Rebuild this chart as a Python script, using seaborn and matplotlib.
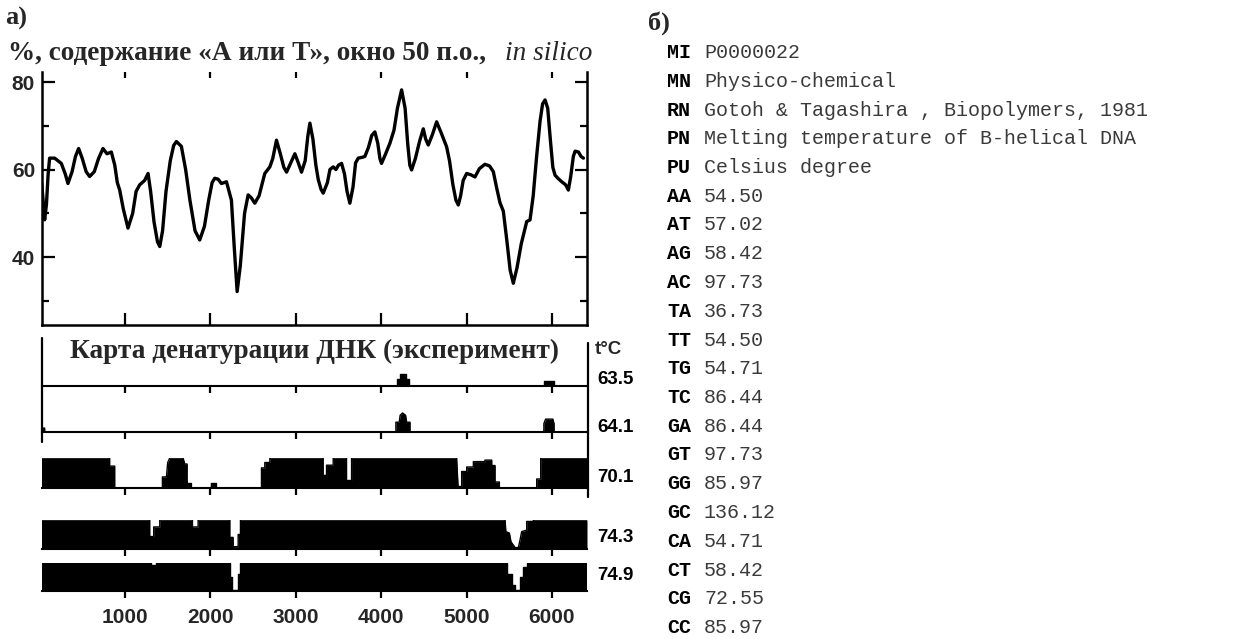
import matplotlib
matplotlib.use('Agg')
import matplotlib.pyplot as plt
from matplotlib.lines import Line2D
from matplotlib.font_manager import FontProperties
import seaborn as sns
import pandas as pd

# ---------------- data ----------------
pos_bp = [25, 45, 59, 80, 100, 117, 176, 254, 300, 332, 380, 420, 457, 500, 545, 586, 640, 690,
          742, 789, 840, 880, 910, 938, 980, 1035, 1090, 1130, 1172, 1230, 1270, 1300, 1340, 1380,
          1407, 1440, 1480, 1530, 1570, 1602, 1660, 1710, 1760, 1820, 1875, 1930, 1980, 2020, 2051,
          2090, 2129, 2188, 2246, 2280, 2313, 2350, 2400, 2442, 2480, 2520, 2570, 2637, 2696, 2730,
          2774, 2820, 2860, 2892, 2940, 2989, 3030, 3067, 3110, 3140, 3165, 3200, 3235, 3263, 3295,
          3321, 3370, 3400, 3438, 3470, 3500, 3536, 3570, 3600, 3633, 3670, 3700, 3731, 3780, 3809,
          3850, 3890, 3926, 3960, 3985, 4004, 4050, 4102, 4150, 4190, 4239, 4280, 4310, 4335, 4356,
          4400, 4450, 4493, 4520, 4551, 4600, 4649, 4700, 4740, 4766, 4800, 4840, 4875, 4903, 4930,
          4960, 5001, 5050, 5098, 5150, 5215, 5270, 5313, 5350, 5391, 5430, 5470, 5510, 5547, 5590,
          5640, 5704, 5743, 5780, 5820, 5860, 5890, 5919, 5950, 5980, 6010, 6036, 6070, 6114, 6160,
          6192, 6220, 6250, 6271, 6310, 6340, 6368]
at_percent = [56.8, 52.0, 48.5, 52.0, 59.0, 62.6, 62.6, 61.4, 59.0, 56.8, 59.5, 63.0, 64.8, 62.5,
              59.5, 58.4, 59.5, 62.5, 64.8, 63.6, 64.0, 61.0, 57.0, 55.3, 51.0, 46.6, 50.0, 55.0,
              56.5, 57.5, 59.1, 55.0, 48.0, 43.5, 42.4, 46.0, 55.0, 62.0, 65.5, 66.4, 65.3, 60.0,
              53.0, 46.0, 43.9, 47.0, 53.0, 57.0, 58.0, 57.8, 56.8, 57.2, 53.0, 42.0, 32.1, 38.0,
              50.0, 54.2, 53.5, 52.3, 54.0, 59.1, 60.6, 62.5, 66.7, 63.5, 60.5, 59.4, 61.5, 63.6,
              61.5, 59.4, 62.0, 67.5, 70.6, 67.0, 61.0, 57.7, 55.5, 54.6, 57.0, 60.0, 60.6, 60.0,
              61.0, 61.4, 59.0, 55.0, 52.3, 56.0, 61.5, 62.6, 62.8, 63.0, 65.0, 67.8, 68.6, 66.0,
              62.5, 61.4, 63.5, 66.0, 69.0, 74.0, 78.2, 74.0, 66.0, 61.0, 59.9, 62.5, 66.5, 69.3,
              67.0, 65.6, 68.0, 70.9, 68.5, 66.5, 65.2, 62.0, 56.5, 53.0, 51.9, 54.0, 57.5, 59.1,
              58.8, 58.3, 60.2, 61.2, 60.8, 59.5, 56.0, 52.4, 50.5, 44.0, 37.0, 34.0, 37.5, 43.0,
              48.1, 48.5, 54.0, 63.0, 71.0, 75.0, 75.9, 74.0, 67.0, 60.5, 58.7, 58.0, 57.2, 56.5,
              55.3, 58.5, 63.0, 64.2, 64.0, 63.0, 62.6]

y_major = [40, 60, 80]
y_minor = [30, 50, 70]
x_ticks = [1000, 2000, 3000, 4000, 5000, 6000]

melt_temps = ['63.5', '64.1', '70.1', '74.3', '74.9']

# fraction of the DNA melted along the sequence at each temperature
row1_x = [0, 4180, 4180, 4219, 4219, 4290, 4290, 4329, 4329, 5911, 5911, 6024, 6024, 6410]
row1_h = [0, 0, 0.25, 0.25, 0.43, 0.43, 0.25, 0.25, 0, 0, 0.18, 0.18, 0, 0]

row2_x = [0, 59, 59, 4172, 4172, 4211, 4222, 4250, 4285, 4298, 4337, 4337, 5905, 5905, 5925,
          6010, 6024, 6024, 6410]
row2_h = [0.14, 0.14, 0, 0, 0.35, 0.35, 0.6, 0.68, 0.6, 0.35, 0.35, 0, 0, 0.3, 0.46,
          0.46, 0.3, 0, 0]

row3_x = [0, 820, 820, 879, 879, 1438, 1438, 1485, 1500, 1524, 1680, 1700, 1727, 1727, 1778,
          1778, 2012, 2012, 2071, 2071, 2598, 2598, 2637, 2637, 2696, 2696, 3320, 3320, 3360,
          3360, 3438, 3438, 3594, 3594, 3653, 3653, 4883, 4900, 4942, 4942, 5001, 5001, 5079,
          5079, 5215, 5215, 5294, 5294, 5333, 5333, 5384, 5384, 5821, 5821, 5868, 5868, 6410]
row3_h = [1, 1, 0.73, 0.73, 0, 0, 0.37, 0.37, 0.85, 1, 1, 0.8, 0.8, 0.15, 0.15,
          0, 0, 0.15, 0.15, 0, 0, 0.67, 0.67, 0.85, 0.85, 1, 1, 0.42, 0.42,
          0.76, 0.76, 1, 1, 0.25, 0.25, 1, 1, 0.05, 0.05, 0.55, 0.55, 0.7, 0.7,
          0.88, 0.88, 0.93, 0.93, 0.75, 0.75, 0.2, 0.2, 0, 0, 0.3, 0.3, 1, 1]

row4_x = [0, 1289, 1289, 1336, 1336, 1407, 1407, 1790, 1790, 1856, 1856, 2227, 2227, 2266,
          2266, 2325, 2325, 2352, 2352, 5450, 5460, 5501, 5520, 5567, 5606, 5625, 5645, 5704,
          5704, 5782, 5782, 6410]
row4_h = [1, 1, 0.43, 0.43, 0.76, 0.76, 1, 1, 0.76, 0.76, 1, 1, 0.4, 0.4,
          0.08, 0.08, 0.5, 0.5, 1, 1, 0.6, 0.55, 0.25, 0.05, 0.05, 0.3, 0.6, 0.65,
          0.95, 0.95, 1, 1]

row5_x = [0, 1309, 1309, 1360, 1360, 2227, 2227, 2258, 2258, 2325, 2325, 2344, 2344, 5477,
          5477, 5528, 5528, 5567, 5567, 5626, 5626, 5657, 5657, 5704, 5704, 6410]
row5_h = [1, 1, 0.92, 0.92, 1, 1, 0.5, 0.5, 0.05, 0.05, 0.6, 0.6, 1, 1,
          0.6, 0.6, 0.2, 0.2, 0.05, 0.05, 0.5, 0.5, 0.85, 0.85, 1, 1]

meta_codes = ['MI', 'MN', 'RN', 'PN', 'PU']
meta_values = ['P0000022', 'Physico-chemical', 'Gotoh & Tagashira , Biopolymers, 1981',
               'Melting temperature of B-helical DNA', 'Celsius degree']
dinucs = ['AA', 'AT', 'AG', 'AC', 'TA', 'TT', 'TG', 'TC', 'GA', 'GT', 'GG', 'GC',
          'CA', 'CT', 'CG', 'CC']
tm_values = [54.50, 57.02, 58.42, 97.73, 36.73, 54.50, 54.71, 86.44, 86.44, 97.73, 85.97,
             136.12, 54.71, 58.42, 72.55, 85.97]

# ---------------- figure ----------------
sns.set_theme(style='white')
plt.rcParams['font.family'] = ['DejaVu Sans']

W, H = 1256, 639
fig = plt.figure(figsize=(W / 100, H / 100), dpi=100)
fig.patch.set_facecolor('white')


def rect(x0, y0, x1, y1):
    return [x0 / W, 1 - y1 / H, (x1 - x0) / W, (y1 - y0) / H]


def fy(y):
    return 1 - y / H


XLIM = (28, 6410)
tick_fp = FontProperties(family=['Liberation Sans', 'DejaVu Sans'], weight='bold', size=15)
lab_fp = FontProperties(family=['Liberation Sans', 'DejaVu Sans'], weight='bold', size=13.5)
serif_b = FontProperties(family=['Liberation Serif', 'DejaVu Serif'], weight='bold', size=19.6)
serif_a = FontProperties(family=['Liberation Serif', 'DejaVu Serif'], weight='bold', size=19)
serif_i = FontProperties(family=['Liberation Serif', 'DejaVu Serif'], style='italic', size=19.6)
mono_b = FontProperties(family=['Liberation Mono', 'DejaVu Sans Mono'], weight='bold', size=14.4)
mono_r = FontProperties(family=['Liberation Mono', 'DejaVu Sans Mono'], size=14.4)

# ---- top panel: A/T content ----
ax = fig.add_axes(rect(42, 72, 587, 325))
ax.patch.set_alpha(0)
df = pd.DataFrame({'bp': pos_bp, 'at': at_percent})
sns.lineplot(data=df, x='bp', y='at', ax=ax, color='black', linewidth=2.4)
ax.set_xlim(*XLIM)
ax.set_ylim(24.46, 82.29)
ax.set_xlabel('')
ax.set_ylabel('')
ax.spines['top'].set_visible(False)
for s in ['left', 'right', 'bottom']:
    ax.spines[s].set_color('black')
    ax.spines[s].set_linewidth(1.8)
ax.set_yticks(y_major)
ax.set_yticks(y_minor, minor=True)
ax.set_xticks(x_ticks)
ax.set_xticklabels([])
ax.tick_params(axis='both', which='both', direction='in', color='black', width=1.6)
ax.tick_params(axis='y', which='major', length=9, left=True, right=True, pad=5)
ax.tick_params(axis='y', which='minor', length=5, left=True, right=True)
ax.tick_params(axis='x', which='major', length=9, bottom=True, top=False)
for lab in ax.get_yticklabels():
    lab.set_fontproperties(tick_fp)
sec = ax.secondary_xaxis('top')
sec.set_xticks(x_ticks)
sec.set_xticklabels([])
sec.tick_params(direction='in', length=4, width=1.6, color='black', top=True)
sec.spines['top'].set_visible(False)

# ---- bottom panel: denaturation map ----
rows = [(row1_x, row1_h), (row2_x, row2_h), (row3_x, row3_h), (row4_x, row4_h), (row5_x, row5_h)]
row_px = [(358, 386), (404, 432), (458, 488), (520, 549), (563, 591)]
label_y = [380, 427, 478, 538, 576]
for i, ((rx, rh), (t, b)) in enumerate(zip(rows, row_px)):
    rax = fig.add_axes(rect(42, t, 587, b))
    rax.patch.set_alpha(0)
    rax.fill_between(rx, 0, rh, color='black', linewidth=0)
    sns.lineplot(x=rx, y=rh, ax=rax, color='black', linewidth=1.0, sort=False, estimator=None)
    rax.set_xlim(*XLIM)
    rax.set_ylim(0, 1)
    rax.set_yticks([])
    for s in ['left', 'right', 'top']:
        rax.spines[s].set_visible(False)
    rax.spines['bottom'].set_color('black')
    rax.spines['bottom'].set_linewidth(1.5)
    rax.set_xticks(x_ticks)
    rax.tick_params(axis='x', direction='out', length=5, width=1.6, color='black',
                    bottom=True, labelbottom=(i == len(rows) - 1), pad=7)
    if i == len(rows) - 1:
        for lab in rax.get_xticklabels():
            lab.set_fontproperties(tick_fp)
    else:
        rax.set_xticklabels([])
    fig.text(597 / W, fy(label_y[i]), melt_temps[i], fontproperties=lab_fp,
             ha='left', va='center', color='black')

fig.add_artist(Line2D([42 / W, 42 / W], [fy(338), fy(442)], color='black', lw=1.6,
                      transform=fig.transFigure))
fig.add_artist(Line2D([588 / W, 588 / W], [fy(343), fy(497)], color='black', lw=1.6,
                      transform=fig.transFigure))
fig.text(595 / W, fy(354), 't°C', fontproperties=lab_fp, ha='left', va='baseline')

# ---- titles ----
fig.text(5 / W, fy(25), 'а)', fontproperties=serif_a, ha='left', va='baseline')
fig.text(8 / W, fy(60), '%, содержание «А или Т», окно 50 п.о.,', fontproperties=serif_b,
         ha='left', va='baseline')
fig.text(505 / W, fy(60), 'in silico', fontproperties=serif_i, ha='left', va='baseline')
fig.text(70 / W, fy(358), 'Карта денатурации ДНК (эксперимент)', fontproperties=serif_b,
         ha='left', va='baseline')

# ---- right panel: AAindex entry ----
fig.text(648 / W, fy(30), 'б)', fontproperties=serif_a, ha='left', va='baseline')
codes = meta_codes + dinucs
values = meta_values + [f'{v:.2f}' for v in tm_values]
for i, (c, v) in enumerate(zip(codes, values)):
    yb = 58 + i * 28.75
    fig.text(667 / W, fy(yb), c, fontproperties=mono_b, ha='left', va='baseline', color='black')
    fig.text(704 / W, fy(yb), v, fontproperties=mono_r, ha='left', va='baseline', color='#3a3a3a')

fig.savefig('out.png', dpi=100, facecolor='white')
